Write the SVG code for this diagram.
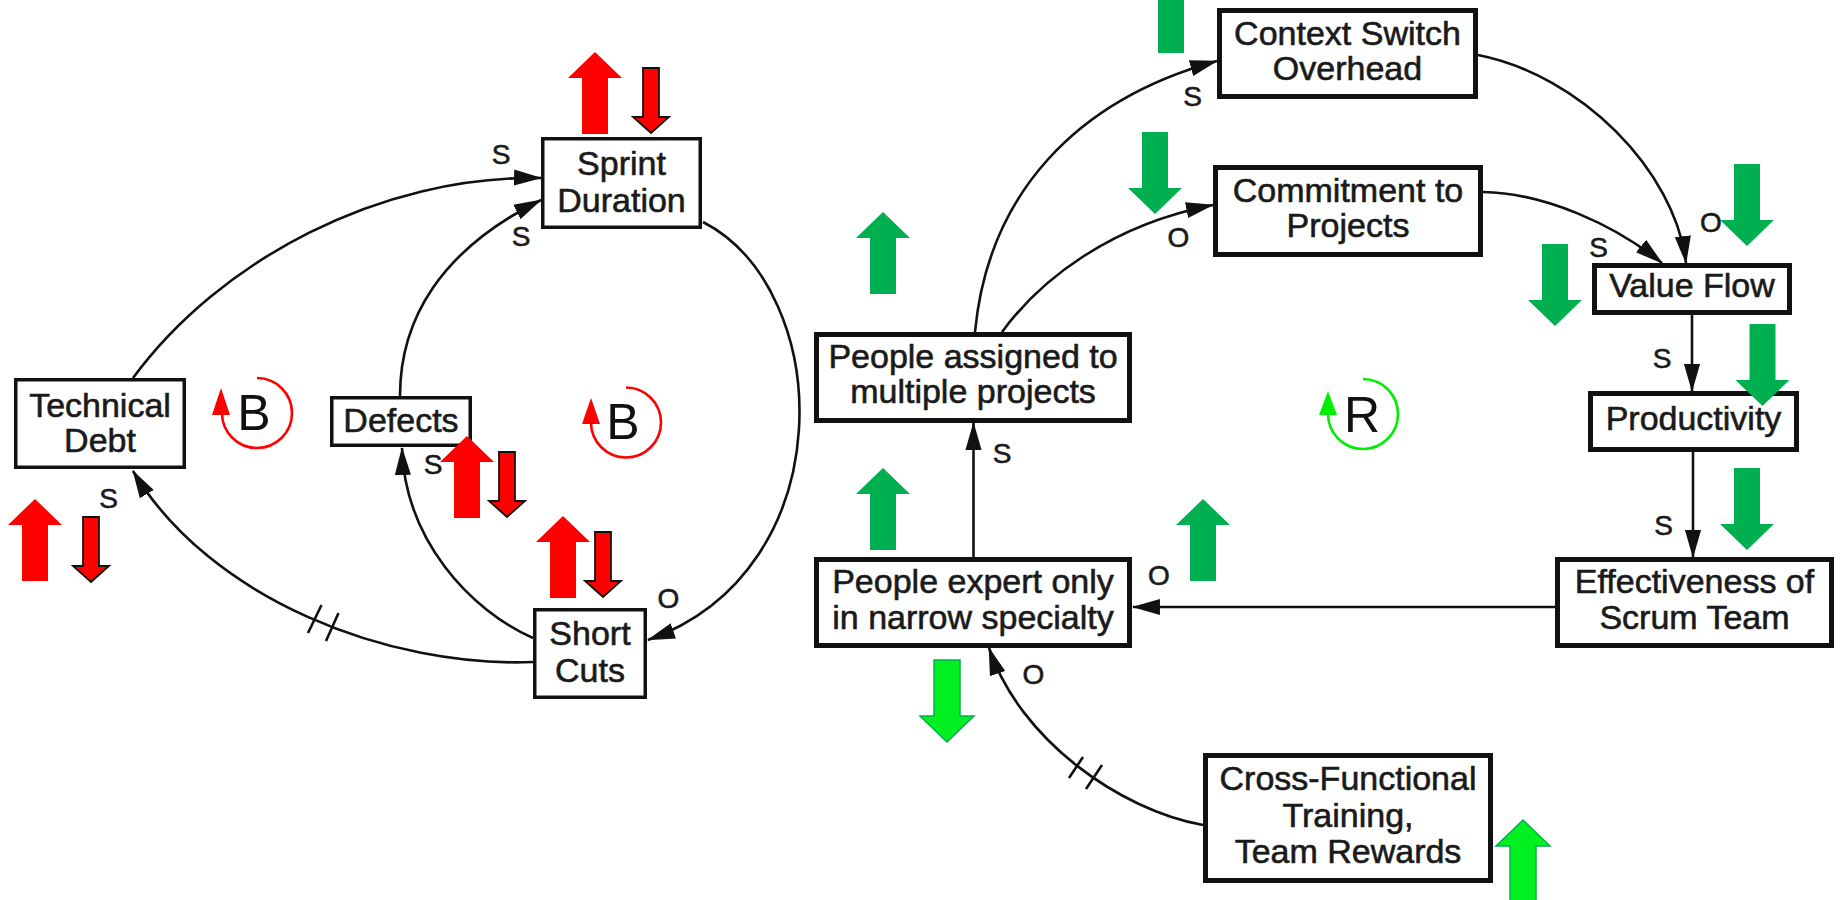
<svg xmlns="http://www.w3.org/2000/svg" xmlns:xlink="http://www.w3.org/1999/xlink" width="1841" height="900" viewBox="0 0 1841 900">
<style>
.bg{fill:#fff}
.box{fill:#fff;stroke:#111;stroke-width:3.5}
.boxr{fill:#fff;stroke:#111;stroke-width:5}
.t{font-family:"Liberation Sans",Arial,sans-serif;font-size:34px;fill:#1a1a1a;stroke:#1a1a1a;stroke-width:0.6;text-anchor:middle}
.lbl{font-family:"Liberation Sans",Arial,sans-serif;font-size:28px;fill:#1a1a1a;stroke:#1a1a1a;stroke-width:0.6;text-anchor:middle}
.loopt{font-family:"Liberation Sans",Arial,sans-serif;font-size:50px;fill:#111;text-anchor:middle}
.c{fill:none;stroke:#111;stroke-width:2.6;marker-end:url(#ah)}
.hash{stroke:#111;stroke-width:2.6}
.red{fill:#ff0000}
.redo{fill:#ff0000;stroke:#111;stroke-width:1.8}
.grn{fill:#00b050}
.lgrn{fill:#00f020;stroke:#00b050;stroke-width:1.5}
.loopB{fill:none;stroke:#ff0000;stroke-width:2.6}
.loopR{fill:none;stroke:#00ee00;stroke-width:2.6}
</style>
<defs>
<marker id="ah" markerUnits="userSpaceOnUse" markerWidth="28" markerHeight="18" viewBox="0 0 26 15" refX="25" refY="7.5" orient="auto">
<path d="M0,0 L26,7.5 L0,15 z" fill="#111"/>
</marker>
<polygon id="up" points="0,0 27,26 13,26 13,82 -13,82 -13,26 -27,26"/>
<polygon id="down" points="0,0 27,-26 13,-26 13,-82 -13,-82 -13,-26 -27,-26"/>
<polygon id="downS" points="0,0 18,-16 8,-16 8,-65 -8,-65 -8,-16 -18,-16"/>
</defs>
<rect class="bg" x="0" y="0" width="1841" height="900"/>

<g id="connectors">
<path class="c" d="M133,378 C220,260 380,175 541,178"/>
<path class="c" d="M400,396 C400,320 440,250 541,200"/>
<path class="c" d="M703,222 C835,290 845,570 648,640"/>
<path class="c" d="M533,638 C470,610 405,540 402,448"/>
<path class="c" d="M533,662 C390,668 210,600 133,471"/>
<line class="hash" x1="308" y1="633" x2="321.5" y2="605"/>
<line class="hash" x1="326" y1="641" x2="338.5" y2="613"/>
<path class="c" d="M975,332 C988,195 1075,100 1217,61"/>
<path class="c" d="M1002,332 C1040,280 1110,225 1213,205"/>
<path class="c" d="M1478,55 C1580,75 1675,170 1686,263"/>
<path class="c" d="M1483,192 C1545,193 1615,225 1662,263"/>
<path class="c" d="M1692,315 L1692,391"/>
<path class="c" d="M1693,452 L1693,557"/>
<path class="c" d="M1555,607 L1133,607"/>
<path class="c" d="M973.5,557 L973.5,423"/>
<path class="c" d="M1203,825 C1120,810 1020,740 989,648"/>
<line class="hash" x1="1069" y1="778" x2="1083" y2="757"/>
<line class="hash" x1="1086" y1="789" x2="1102" y2="765"/>
</g>

<g id="node-technical-debt">
<rect class="box" x="15.75" y="379.75" width="168.5" height="87.5"/>
<text class="t" x="100" y="417">Technical</text>
<text class="t" x="100" y="452">Debt</text>
</g>
<g id="node-sprint-duration">
<rect class="box" x="542.75" y="138.75" width="157.5" height="88.5"/>
<text class="t" x="621.5" y="175">Sprint</text>
<text class="t" x="621.5" y="212">Duration</text>
</g>
<g id="node-defects">
<rect class="box" x="331.75" y="397.75" width="138.5" height="47.5"/>
<text class="t" x="401" y="432">Defects</text>
</g>
<g id="node-short-cuts">
<rect class="box" x="534.75" y="609.75" width="110.5" height="87.5"/>
<text class="t" x="590" y="645">Short</text>
<text class="t" x="590" y="682">Cuts</text>
</g>
<g id="node-context-switch">
<rect class="boxr" x="1219.5" y="10.5" width="256" height="86"/>
<text class="t" x="1347.5" y="45">Context Switch</text>
<text class="t" x="1347.5" y="80">Overhead</text>
</g>
<g id="node-commitment">
<rect class="boxr" x="1215.5" y="167.5" width="265" height="87"/>
<text class="t" x="1348" y="202">Commitment to</text>
<text class="t" x="1348" y="237">Projects</text>
</g>
<g id="node-people-assigned">
<rect class="boxr" x="816.5" y="334.5" width="313" height="86"/>
<text class="t" x="973" y="368">People assigned to</text>
<text class="t" x="973" y="403">multiple projects</text>
</g>
<g id="node-value-flow">
<rect class="boxr" x="1594.5" y="265.5" width="195" height="47"/>
<text class="t" x="1692" y="297">Value Flow</text>
</g>
<g id="node-productivity">
<rect class="boxr" x="1590.5" y="393.5" width="206" height="56"/>
<text class="t" x="1693.5" y="430">Productivity</text>
</g>
<g id="node-effectiveness">
<rect class="boxr" x="1557.5" y="559.5" width="274" height="86"/>
<text class="t" x="1694.5" y="593">Effectiveness of</text>
<text class="t" x="1694.5" y="629">Scrum Team</text>
</g>
<g id="node-people-expert">
<rect class="boxr" x="816.5" y="559.5" width="313" height="86"/>
<text class="t" x="973" y="593">People expert only</text>
<text class="t" x="973" y="629">in narrow specialty</text>
</g>
<g id="node-cross-functional">
<rect class="boxr" x="1205.5" y="755.5" width="285" height="125"/>
<text class="t" x="1348" y="790">Cross-Functional</text>
<text class="t" x="1348" y="827">Training,</text>
<text class="t" x="1348" y="863">Team Rewards</text>
</g>

<g id="link-labels">
<text class="lbl" x="501" y="164">S</text>
<text class="lbl" x="521" y="246">S</text>
<text class="lbl" x="433" y="474">S</text>
<text class="lbl" x="668.5" y="608">O</text>
<text class="lbl" x="108.5" y="508">S</text>
<text class="lbl" x="1192.5" y="106">S</text>
<text class="lbl" x="1178.5" y="247">O</text>
<text class="lbl" x="1598.5" y="257">S</text>
<text class="lbl" x="1711" y="232">O</text>
<text class="lbl" x="1662" y="368">S</text>
<text class="lbl" x="1663.5" y="535">S</text>
<text class="lbl" x="1159" y="585">O</text>
<text class="lbl" x="1002" y="463">S</text>
<text class="lbl" x="1033.5" y="684">O</text>
</g>

<g id="loop-b1">
<path class="loopB" d="M257,378 A35,35 0 1,1 222,413"/>
<polygon points="221,388 212,415 230,415" fill="#ff0000"/>
<text class="loopt" x="254" y="430">B</text>
</g>
<g id="loop-b2">
<path class="loopB" d="M626,387.5 A35,35 0 1,1 591,422.5"/>
<polygon points="591,398 582,424 600,424" fill="#ff0000"/>
<text class="loopt" x="623" y="439">B</text>
</g>
<g id="loop-r">
<path class="loopR" d="M1363,379 A35,35 0 1,1 1328,414"/>
<polygon points="1328,391 1319,415 1337,415" fill="#00ee00"/>
<text class="loopt" x="1362" y="432">R</text>
</g>

<g id="trend-arrows">
<use href="#up" class="red" x="595" y="52"/>
<use href="#downS" class="redo" x="651" y="133"/>
<use href="#up" class="red" x="35" y="499"/>
<use href="#downS" class="redo" x="91" y="582"/>
<use href="#up" class="red" x="467" y="436"/>
<use href="#downS" class="redo" x="507" y="517"/>
<use href="#up" class="red" x="563" y="516"/>
<use href="#downS" class="redo" x="603" y="597"/>

<use href="#up" class="grn" x="1171" y="-29"/>
<use href="#down" class="grn" x="1155" y="214"/>
<use href="#up" class="grn" x="883" y="212"/>
<use href="#up" class="grn" x="883" y="468"/>
<use href="#up" class="grn" x="1203" y="499"/>
<use href="#down" class="grn" x="1747" y="246"/>
<use href="#down" class="grn" x="1555" y="326"/>
<use href="#down" class="grn" x="1762.5" y="406"/>
<use href="#down" class="grn" x="1747" y="550"/>
<use href="#down" class="lgrn" x="947" y="742"/>
<use href="#up" class="lgrn" x="1523" y="820"/>
</g>
</svg>
